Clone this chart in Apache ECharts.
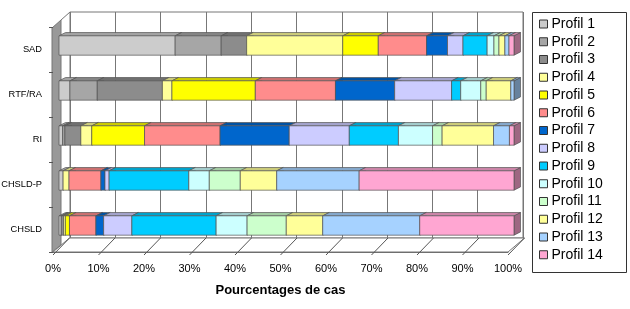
<!DOCTYPE html>
<html>
<head>
<meta charset="utf-8">
<script src="https://cdn.jsdelivr.net/npm/echarts@6/dist/echarts.min.js"></script>
<style>html,body{margin:0;padding:0;background:#fff}#c{width:630px;height:309px}</style>
</head>
<body>
<div id="c"></div>
<script>
// Categories (bottom to top on the axis)
const categories = ['CHSLD', 'CHSLD-P', 'RI', 'RTF/RA', 'SAD'];
const profileNames = ['Profil 1','Profil 2','Profil 3','Profil 4','Profil 5','Profil 6','Profil 7','Profil 8','Profil 9','Profil 10','Profil 11','Profil 12','Profil 13','Profil 14'];
const xTickValues = [0,10,20,30,40,50,60,70,80,90,100];

// Shares (%) per profile, in the order of categories
const profil1  = [0.5, 0.9, 0.8, 2.4, 25.5];
const profil2  = [0.0, 0.0, 0.5, 6.0, 10.1];
const profil3  = [0.5, 0.0, 3.5, 14.3, 5.6];
const profil4  = [0.4, 1.3, 2.4, 2.1, 21.1];
const profil5  = [0.9, 0.0, 11.6, 18.3, 7.8];
const profil6  = [5.8, 7.0, 16.6, 17.6, 10.6];
const profil7  = [1.7, 0.9, 15.2, 13.0, 4.6];
const profil8  = [6.2, 0.9, 13.2, 12.5, 3.4];
const profil9  = [18.5, 17.5, 10.8, 2.0, 5.3];
const profil10 = [6.8, 4.5, 7.5, 4.4, 1.5];
const profil11 = [8.6, 6.8, 2.1, 1.2, 1.1];
const profil12 = [8.0, 8.0, 11.3, 5.4, 1.3];
const profil13 = [21.3, 18.1, 3.5, 0.7, 0.9];
const profil14 = [20.7, 34.0, 1.0, 0.0, 1.1];

const profiles = [profil1,profil2,profil3,profil4,profil5,profil6,profil7,profil8,profil9,profil10,profil11,profil12,profil13,profil14];
const colors = ['#CCCCCC','#A6A6A6','#8C8C8C','#FFFF99','#FFFF00','#FF8C8C','#0066CC','#CCCCFF','#00CCFF','#CCFFFF','#CCFFCC','#FFFF99','#A6D2FF','#FFA6D2'];

function shade(hex, f) {
  const n = parseInt(hex.slice(1), 16);
  const r = Math.round(((n >> 16) & 255) * f), g = Math.round(((n >> 8) & 255) * f), b = Math.round((n & 255) * f);
  return 'rgb(' + r + ',' + g + ',' + b + ')';
}

// 100% stacking
const totals = categories.map((c, i) => profiles.reduce((s, p) => s + p[i], 0));
const cum = categories.map(() => 0);
const seriesData = profiles.map((p) => p.map((v, i) => {
  const s = cum[i] / totals[i] * 100;
  cum[i] += v;
  const e = cum[i] / totals[i] * 100;
  return [i, s, e];
}));

const OX = 6, OY = -4;      // bar placement within depth
const DX = 6.5, DY = -3.3;  // bar depth
function barRender(params, api) {
  const cat = api.value(0), s = api.value(1), e = api.value(2);
  if (e - s <= 0.0001) return null;
  const p0 = api.coord([s, cat]), p1 = api.coord([e, cat]);
  const h = api.size([0, 1])[1] * 0.43;
  const x0 = p0[0] + OX, x1 = p1[0] + OX, yc = p0[1] + OY;
  const yt = yc - h / 2, yb = yc + h / 2;
  const col = colors[params.seriesIndex - 1];
  const stroke = {stroke: '#555', lineWidth: 0.7};
  return {type: 'group', children: [
    {type: 'polygon', shape: {points: [[x1, yt], [x1 + DX, yt + DY], [x1 + DX, yb + DY], [x1, yb]]}, style: Object.assign({fill: shade(col, 0.62)}, stroke)},
    {type: 'polygon', shape: {points: [[x0, yt], [x1, yt], [x1 + DX, yt + DY], [x0 + DX, yt + DY]]}, style: Object.assign({fill: shade(col, 0.8)}, stroke)},
    {type: 'rect', shape: {x: x0, y: yt, width: x1 - x0, height: yb - yt}, style: Object.assign({fill: col}, stroke)}
  ]};
}

const FDX = 16.5, FDY = -14;
function floorRender(params, api) {
  const v = api.value(0);
  const cs = params.coordSys;
  const bottom = cs.y + cs.height;
  const x = api.coord([v, 0])[0];
  const children = [];
  if (params.dataIndex === 0) {
    const xl = x, xr = cs.x + cs.width;
    children.push({type: 'polygon', shape: {points: [[xl, bottom], [xr, bottom], [xr + FDX, bottom + FDY], [xl + FDX, bottom + FDY]]}, style: {fill: '#fff', stroke: '#777', lineWidth: 1}});
  }
  children.push({type: 'line', shape: {x1: x, y1: bottom + 3, x2: x + FDX, y2: bottom + FDY}, style: {stroke: '#555', lineWidth: 1}});
  return {type: 'group', children: children};
}

const chart = echarts.init(document.getElementById('c'), null, {renderer: 'canvas'});
const series = [{
  type: 'custom', xAxisIndex: 0, yAxisIndex: 0, z: 1, silent: true,
  data: xTickValues.map(v => [v]), encode: {x: 0}, renderItem: floorRender
}].concat(profiles.map((p, k) => ({
  name: profileNames[k], type: 'custom', xAxisIndex: 0, yAxisIndex: 0, z: 3,
  itemStyle: {color: colors[k], borderColor: '#333', borderWidth: 1},
  data: seriesData[k], encode: {x: [1, 2], y: 0}, renderItem: barRender
})));

chart.setOption({
  animation: false,
  backgroundColor: '#fff',
  textStyle: {fontFamily: 'Liberation Sans, Arial, sans-serif'},
  grid: [
    {left: 53, right: 122, top: 27, bottom: 57, containLabel: false, outerBoundsMode: 'none'},
    {left: 70, right: 107, top: 12, bottom: 71, show: true, borderColor: '#777', borderWidth: 1, z: 0, containLabel: false, outerBoundsMode: 'none'}
  ],
  xAxis: [
    {type: 'value', gridIndex: 0, min: 0, max: 100, interval: 10,
     axisLine: {show: true, lineStyle: {color: '#666'}}, axisTick: {show: false}, splitLine: {show: false},
     axisLabel: {formatter: '{value}%', fontSize: 11, color: '#000', margin: 11},
     name: 'Pourcentages de cas', nameLocation: 'middle', nameGap: 32,
     nameTextStyle: {fontSize: 13, fontWeight: 'bold', color: '#000'}},
    {type: 'value', gridIndex: 1, min: 0, max: 100, interval: 10,
     axisLine: {show: false}, axisTick: {show: false}, axisLabel: {show: false},
     splitLine: {show: true, lineStyle: {color: '#777', width: 1}}}
  ],
  yAxis: [
    {type: 'category', gridIndex: 0, data: categories,
     axisLine: {show: false}, axisTick: {show: true, length: 4, lineStyle: {color: '#555'}},
     axisLabel: {fontSize: 9.3, color: '#000', margin: 11}},
    {type: 'category', gridIndex: 1, data: categories, show: false}
  ],
  legend: {
    orient: 'vertical', left: 539, top: 17, padding: 0,
    itemWidth: 8, itemHeight: 8, itemGap: 3.75, icon: 'rect',
    itemStyle: {borderColor: '#333', borderWidth: 1},
    textStyle: {fontSize: 14, lineHeight: 14, color: '#000', padding: [0, 0, 0, -1]},
    data: profileNames
  },
  graphic: [
    {type: 'rect', shape: {x: 532.5, y: 12.5, width: 94, height: 260}, style: {fill: 'none', stroke: '#333', lineWidth: 1}, z: 0},
    {type: 'polygon', shape: {points: [[52, 28], [61, 20], [61, 245], [52, 252]]}, style: {fill: '#999', stroke: '#777', lineWidth: 1}, z: 0},
    {type: 'line', shape: {x1: 61, y1: 20, x2: 70, y2: 12}, style: {stroke: '#777', lineWidth: 1}, z: 0}
  ],
  series: series
});
</script>
</body>
</html>
